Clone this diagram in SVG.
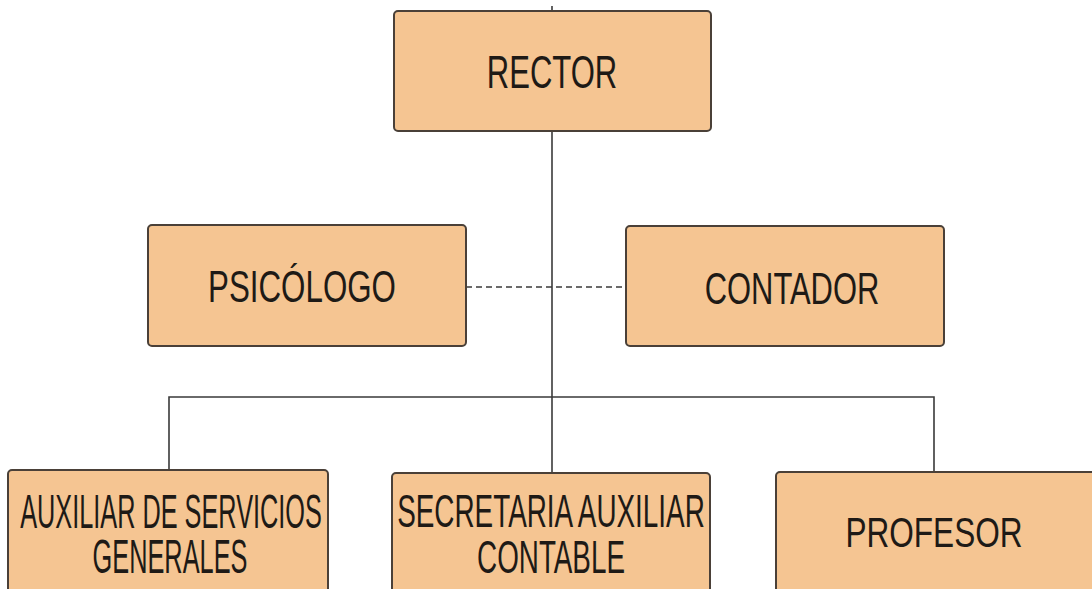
<svg xmlns="http://www.w3.org/2000/svg" width="1092" height="589" viewBox="0 0 1092 589">
<style>
.box{fill:#F5C592;stroke:#4a4038;stroke-width:2}
.t{font-family:"Liberation Sans",Arial,sans-serif;fill:#1e1a16;text-anchor:middle}
.ln{stroke:#3a3a3a;stroke-width:1.6;fill:none}
.dash{stroke:#3a3a3a;stroke-width:1.6;stroke-dasharray:6 4;fill:none}
</style>
<rect width="1092" height="589" fill="#ffffff"/>
<g id="connectors">
<line class="ln" x1="552" y1="6" x2="552" y2="473"/>
<path class="ln" d="M169 470 V397 H934 V472"/>
<line class="dash" x1="466" y1="287" x2="626" y2="287"/>
</g>
<g id="rector">
<rect class="box" x="394" y="11" width="317" height="120" rx="4"/>
<text class="t" transform="translate(552,88) scale(0.66,1)" font-size="47">RECTOR</text>
</g>
<g id="psicologo">
<rect class="box" x="148" y="225" width="318" height="121" rx="4"/>
<text class="t" transform="translate(302,302) scale(0.696,1)" font-size="45">PSICÓLOGO</text>
</g>
<g id="contador">
<rect class="box" x="626" y="226" width="318" height="120" rx="4"/>
<text class="t" transform="translate(792,304) scale(0.703,1)" font-size="44">CONTADOR</text>
</g>
<g id="auxiliar">
<rect class="box" x="8" y="470" width="320" height="130" rx="4"/>
<text class="t" transform="translate(171,528) scale(0.527,1)" font-size="48">AUXILIAR DE SERVICIOS</text>
<text class="t" transform="translate(170,573) scale(0.528,1)" font-size="48">GENERALES</text>
</g>
<g id="secretaria">
<rect class="box" x="392" y="473" width="318" height="130" rx="4"/>
<text class="t" transform="translate(551,527) scale(0.593,1)" font-size="47">SECRETARIA AUXILIAR</text>
<text class="t" transform="translate(551,573) scale(0.592,1)" font-size="47">CONTABLE</text>
</g>
<g id="profesor">
<rect class="box" x="776" y="472" width="330" height="130" rx="4"/>
<text class="t" transform="translate(934,547) scale(0.751,1)" font-size="42">PROFESOR</text>
</g>
</svg>
